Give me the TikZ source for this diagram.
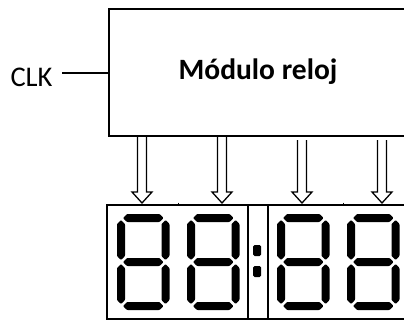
\documentclass[tikz,border=0pt]{standalone}
\usepackage{fontspec}
\setmainfont{Carlito}
\newcommand\mysegH[3]{\fill[seg] (#1,#3) -- (#1+4,#3-4) -- (#2-4,#3-4) -- (#2,#3) -- (#2-4,#3+4) -- (#1+4,#3+4) -- cycle;}
\newcommand\mysegV[3]{\fill[seg] (#1,#2) -- (#1+4,#2+4) -- (#1+4,#3-4) -- (#1,#3) -- (#1-4,#3-4) -- (#1-4,#2+4) -- cycle;}
\newcommand\myeight[2]{%
  \mysegH{#1+2}{#2-2}{218}\mysegH{#1+2}{#2-2}{262}\mysegH{#1+2}{#2-2}{306}%
  \mysegV{#1}{220}{260}\mysegV{#2}{220}{260}\mysegV{#1}{264}{304}\mysegV{#2}{264}{304}}
\newcommand\myarrow[2]{\draw[hollow] (#1-4.5,#2) -- (#1-4.5,192) -- (#1-10,192) -- (#1,203) -- (#1+10,192) -- (#1+4.5,192) -- (#1+4.5,#2);}
\begin{document}
\begin{tikzpicture}[x=1pt,y=-1pt,
  seg/.style={black,rounded corners=0.8pt},
  hollow/.style={line width=1.3pt,line join=miter},
  modbox/.style={draw,line width=1.8pt,minimum width=299pt,minimum height=127pt,inner sep=0pt},
  disp/.style={line width=1.3pt}]
\useasboundingbox (0,0) rectangle (404,321);
\clip (0,0) rectangle (404,321);
% module box
\node[modbox] (mod) at (258.5,72.5) {};
\node[anchor=base,font=\fontsize{29.5}{32}\selectfont\bfseries] (lbl) at (258,79) {Módulo reloj};
\node[anchor=base,font=\fontsize{28.5}{32}\selectfont] (clk) at (31.5,86.5) {CLK};
\coordinate (clkend) at (62,72.5);
\draw[line width=2pt] (clkend) -- (mod.west);
% arrows
\myarrow{142}{137}
\myarrow{222}{137}
\myarrow{302}{140}
\myarrow{382}{140}
% display
\draw[disp] (107,205) rectangle (412,319);
\draw[disp] (248,205) -- (248,319);
\draw[disp] (268,205) -- (268,319);
\draw[line width=0.8pt] (178,202.5) -- (178,205);
\draw[line width=0.8pt] (343,202.5) -- (343,205);
% digits
\myeight{121}{165.5}
\myeight{191}{235.5}
\myeight{281}{325.5}
\myeight{351}{395.5}
% colon
\fill[rounded corners=1.5pt] (253,245) rectangle (261,256);
\fill[rounded corners=1.5pt] (253,266) rectangle (261,277);
\end{tikzpicture}
\end{document}
